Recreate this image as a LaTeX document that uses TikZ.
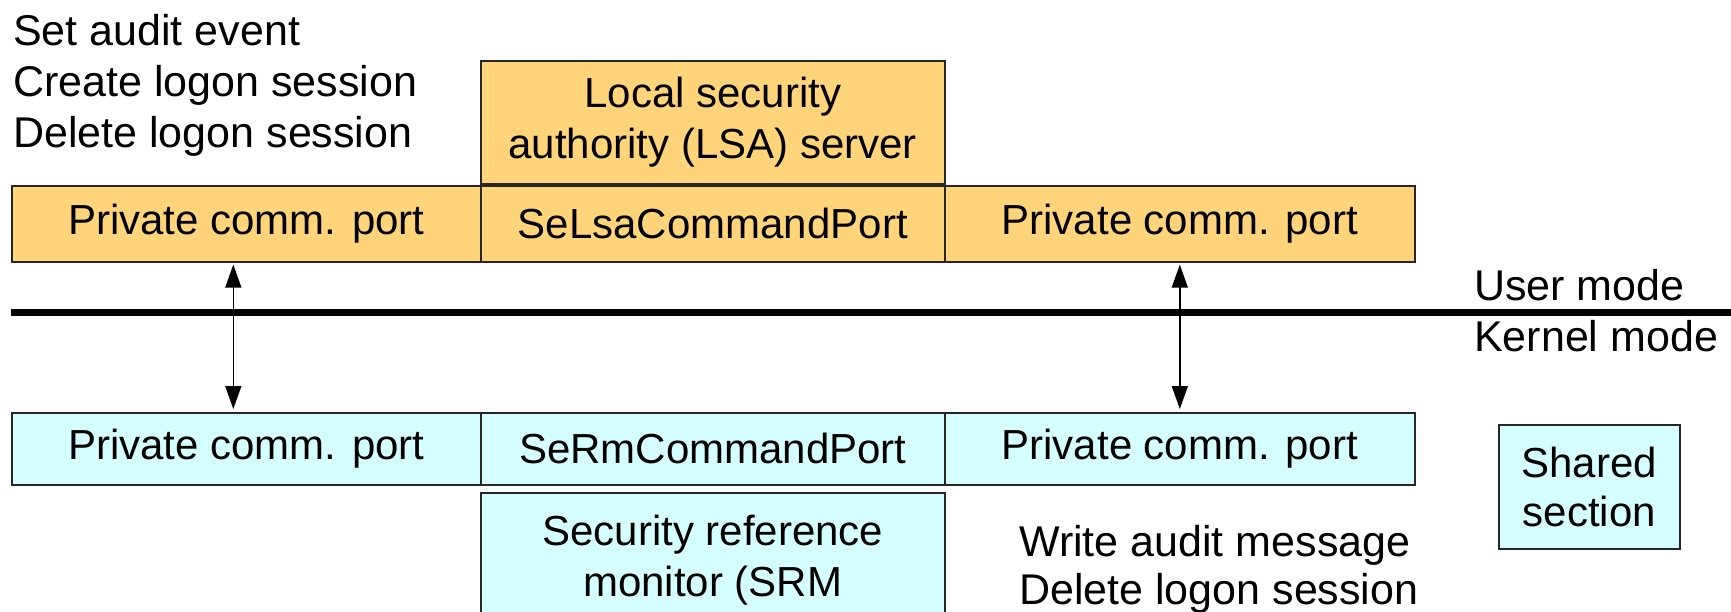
\documentclass[tikz,border=0pt]{standalone}
\usepackage{fontspec}
\setmainfont{Liberation Sans}
\usetikzlibrary{arrows.meta}
\definecolor{lsafill}{HTML}{FFD47A}
\definecolor{srmfill}{HTML}{D5FFFF}
\tikzset{
  cell/.style={draw=black!85, line width=1.6pt, inner sep=0pt, anchor=north west,
    font=\fontsize{42}{51}\selectfont, align=center},
  userbox/.style={cell, fill=lsafill},
  kernbox/.style={cell, fill=srmfill},
  note/.style={inner sep=0pt, anchor=base west, font=\fontsize{43}{51}\selectfont},
  link/.style={{Triangle[width=16pt,length=23pt]}-{Triangle[width=16pt,length=23pt]},
    line width=1.5pt, shorten <=2pt, shorten >=3pt},
  modeline/.style={line width=7pt}
}
\begin{document}
\begin{tikzpicture}[x=1pt, y=-1pt]
\useasboundingbox (0,0) rectangle (1731,612);
\clip (0,0) rectangle (1731,612);

% LSA commands
\node[note] (c1) at (13,46)  {Set audit event};
\node[note] (c2) at (13,97)  {Create logon session};
\node[note] (c3) at (13,148) {Delete logon session};

% user-mode side
\node[userbox, minimum width=464pt, minimum height=123pt] (lsa) at (480,60)
  {Local security\\authority (LSA) server};
\node[userbox, minimum width=469pt, minimum height=76pt] (utl) at (11,185) {Private comm. port};
\node[userbox, minimum width=464pt, minimum height=76pt] (utm) at (480,185) {SeLsaCommandPort};
\node[userbox, minimum width=470pt, minimum height=76pt] (utr) at (944,185) {Private comm. port};

% user / kernel boundary
\coordinate (bl) at (11,312);
\coordinate (br) at (1731,312);
\draw[modeline] (bl) -- (br);
\node[note] (um) at (1474,300) {User mode};
\node[note] (km) at (1474,351) {Kernel mode};

% kernel-mode side
\node[kernbox, minimum width=469pt, minimum height=72pt] (kbl) at (11,412) {Private comm. port};
\node[kernbox, minimum width=464pt, minimum height=72pt] (kbm) at (480,412) {SeRmCommandPort};
\node[kernbox, minimum width=470pt, minimum height=72pt] (kbr) at (944,412) {Private comm. port};
\node[kernbox, minimum width=464pt, minimum height=135pt] (srm) at (480,492)
  {Security reference\\monitor (SRM};
\node[kernbox, minimum width=181pt, minimum height=124pt, font=\fontsize{42}{49}\selectfont]
  (shr) at (1498,424) {Shared\\section};

% SRM commands
\node[note] (w1) at (1019,556) {Write audit message};
\node[note] (w2) at (1019,604) {Delete logon session};

% port connections
\draw[link] ([xshift=-13pt]utl.south) -- ([xshift=-13pt]kbl.north);
\draw[link] (utr.south) -- (kbr.north);
\end{tikzpicture}
\end{document}
